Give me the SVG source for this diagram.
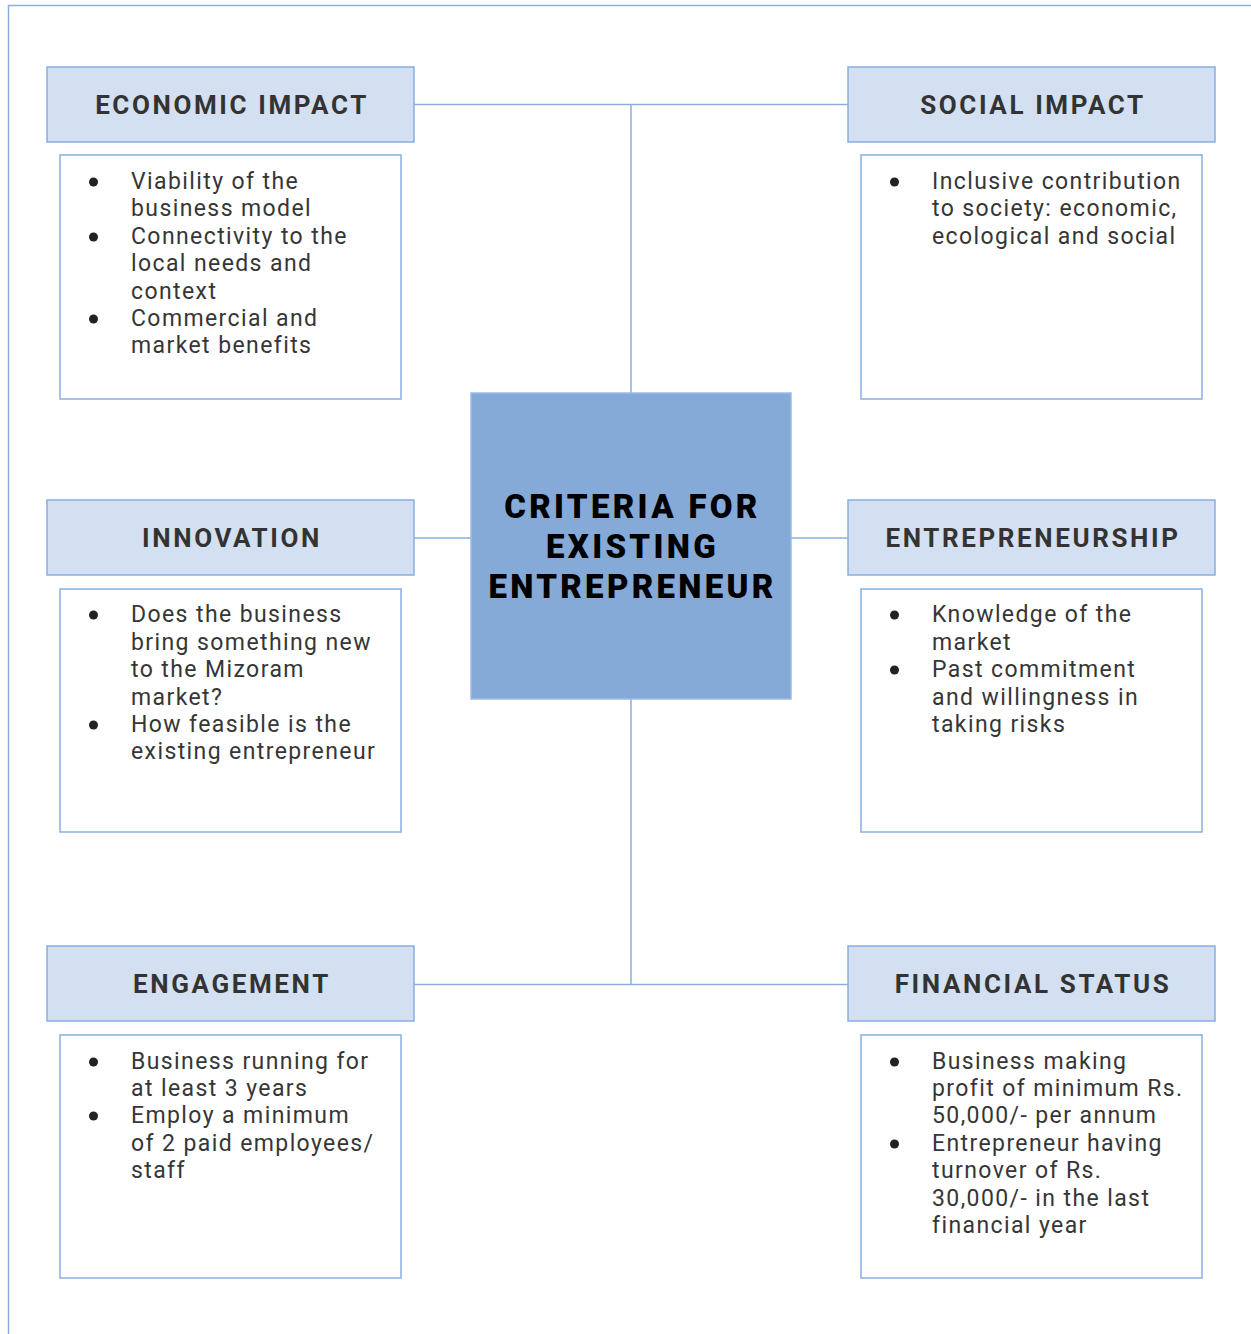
<svg xmlns="http://www.w3.org/2000/svg" width="1251" height="1334" viewBox="0 0 1251 1334">
<style>
.frame{fill:none;stroke:#8eaee0;stroke-width:1.5}
.hdr{fill:#d3e0f1;stroke:#8aaee0;stroke-width:1.5}
.box{fill:#fff;stroke:#8aaee0;stroke-width:1.5}
.ctr{fill:#86aad8;stroke:#9dbbe3;stroke-width:1.5}
.conn line{stroke:#8aaee0;stroke-width:1.5}
.ht{font-family:Roboto,"Liberation Sans",sans-serif;font-weight:700;font-size:26px;letter-spacing:2.6px;fill:#333;text-anchor:middle}
.ct{font-family:Roboto,"Liberation Sans",sans-serif;font-weight:900;font-size:33px;letter-spacing:3.3px;fill:#000;text-anchor:middle}
.bt{font-family:Roboto,"Liberation Sans",sans-serif;font-weight:400;font-size:23px;letter-spacing:1.4px;fill:#363636}
.dot{fill:#222}
</style>
<path class="frame" d="M1251 5.5 H8.5 V1334"/>
<g class="conn">
<line x1="414" y1="104.5" x2="848" y2="104.5"/>
<line x1="631" y1="104.5" x2="631" y2="393"/>
<line x1="414" y1="538" x2="471" y2="538"/>
<line x1="791" y1="538" x2="848" y2="538"/>
<line x1="631" y1="699" x2="631" y2="984.5"/>
<line x1="414" y1="984.5" x2="848" y2="984.5"/>
</g>
<g id="center">
<rect class="ctr" x="471" y="393" width="320" height="306"/>
<text class="ct" x="632.5" y="518">CRITERIA FOR</text>
<text class="ct" x="632.5" y="558">EXISTING</text>
<text class="ct" x="632.5" y="598">ENTREPRENEUR</text>
</g>
<g id="economic">
<rect class="hdr" x="47" y="67" width="367" height="75"/>
<text class="ht" x="232" y="114">ECONOMIC IMPACT</text>
<rect class="box" x="60" y="155" width="341" height="244"/>
<circle class="dot" cx="93.5" cy="182" r="4.5"/>
<circle class="dot" cx="93.5" cy="237" r="4.5"/>
<circle class="dot" cx="93.5" cy="319" r="4.5"/>
<text class="bt" x="131" y="189">Viability of the</text>
<text class="bt" x="131" y="216">business model</text>
<text class="bt" x="131" y="244">Connectivity to the</text>
<text class="bt" x="131" y="271">local needs and</text>
<text class="bt" x="131" y="299">context</text>
<text class="bt" x="131" y="326">Commercial and</text>
<text class="bt" x="131" y="353">market benefits</text>
</g>
<g id="social">
<rect class="hdr" x="848" y="67" width="367" height="75"/>
<text class="ht" x="1033" y="114">SOCIAL IMPACT</text>
<rect class="box" x="861" y="155" width="341" height="244"/>
<circle class="dot" cx="894.5" cy="182" r="4.5"/>
<text class="bt" x="932" y="189">Inclusive contribution</text>
<text class="bt" x="932" y="216">to society: economic,</text>
<text class="bt" x="932" y="244">ecological and social</text>
</g>
<g id="innovation">
<rect class="hdr" x="47" y="500" width="367" height="75"/>
<text class="ht" x="232" y="547">INNOVATION</text>
<rect class="box" x="60" y="589" width="341" height="243"/>
<circle class="dot" cx="93.5" cy="615" r="4.5"/>
<circle class="dot" cx="93.5" cy="725" r="4.5"/>
<text class="bt" x="131" y="622">Does the business</text>
<text class="bt" x="131" y="650">bring something new</text>
<text class="bt" x="131" y="677">to the Mizoram</text>
<text class="bt" x="131" y="705">market?</text>
<text class="bt" x="131" y="732">How feasible is the</text>
<text class="bt" x="131" y="759">existing entrepreneur</text>
</g>
<g id="entrepreneurship">
<rect class="hdr" x="848" y="500" width="367" height="75"/>
<text class="ht" x="1033" y="547">ENTREPRENEURSHIP</text>
<rect class="box" x="861" y="589" width="341" height="243"/>
<circle class="dot" cx="894.5" cy="615" r="4.5"/>
<circle class="dot" cx="894.5" cy="670" r="4.5"/>
<text class="bt" x="932" y="622">Knowledge of the</text>
<text class="bt" x="932" y="650">market</text>
<text class="bt" x="932" y="677">Past commitment</text>
<text class="bt" x="932" y="705">and willingness in</text>
<text class="bt" x="932" y="732">taking risks</text>
</g>
<g id="engagement">
<rect class="hdr" x="47" y="946" width="367" height="75"/>
<text class="ht" x="232" y="993">ENGAGEMENT</text>
<rect class="box" x="60" y="1035" width="341" height="243"/>
<circle class="dot" cx="93.5" cy="1062" r="4.5"/>
<circle class="dot" cx="93.5" cy="1116" r="4.5"/>
<text class="bt" x="131" y="1069">Business running for</text>
<text class="bt" x="131" y="1096">at least 3 years</text>
<text class="bt" x="131" y="1123">Employ a minimum</text>
<text class="bt" x="131" y="1151">of 2 paid  employees/</text>
<text class="bt" x="131" y="1178">staff</text>
</g>
<g id="financial">
<rect class="hdr" x="848" y="946" width="367" height="75"/>
<text class="ht" x="1033" y="993">FINANCIAL STATUS</text>
<rect class="box" x="861" y="1035" width="341" height="243"/>
<circle class="dot" cx="894.5" cy="1062" r="4.5"/>
<circle class="dot" cx="894.5" cy="1144" r="4.5"/>
<text class="bt" x="932" y="1069">Business making</text>
<text class="bt" x="932" y="1096">profit of minimum Rs.</text>
<text class="bt" x="932" y="1123">50,000/- per annum</text>
<text class="bt" x="932" y="1151">Entrepreneur having</text>
<text class="bt" x="932" y="1178">turnover of Rs.</text>
<text class="bt" x="932" y="1206">30,000/- in the last</text>
<text class="bt" x="932" y="1233">financial year</text>
</g>
</svg>
